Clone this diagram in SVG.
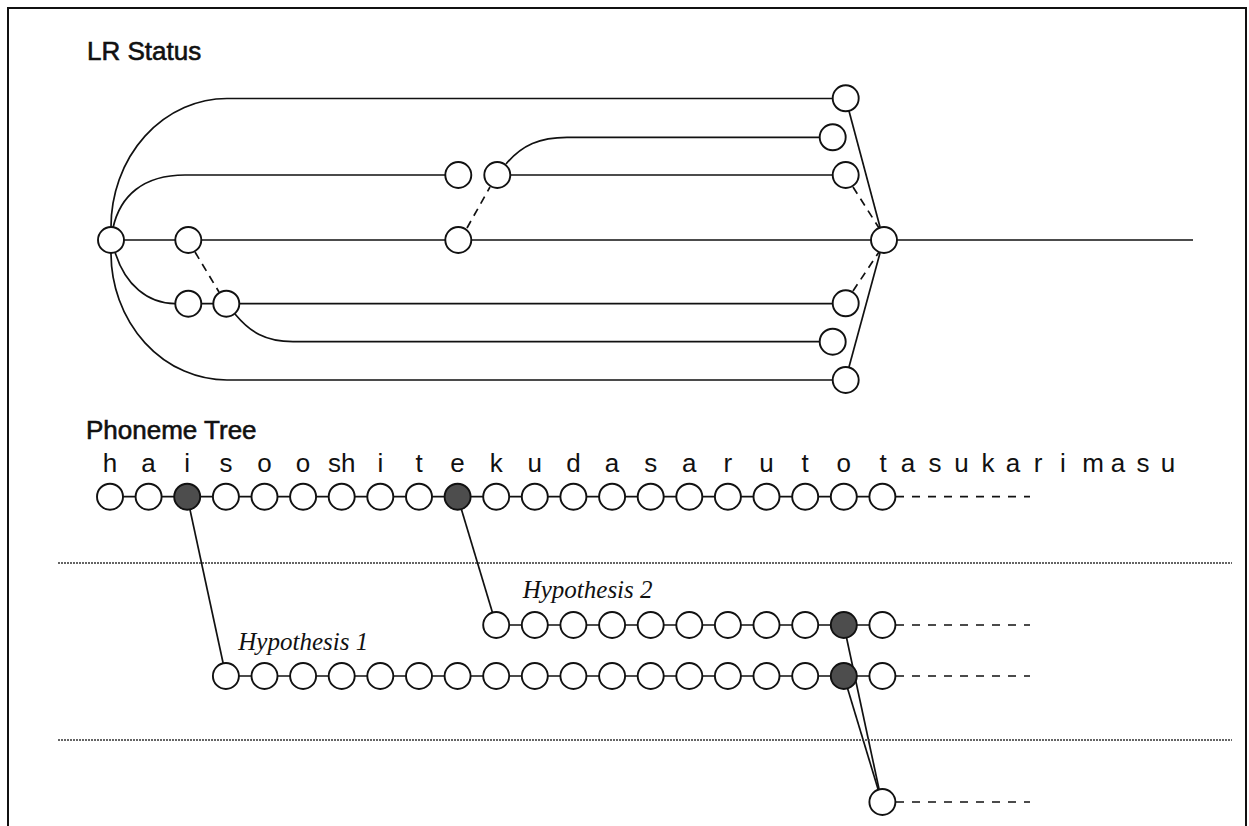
<svg xmlns="http://www.w3.org/2000/svg" width="1249" height="826" viewBox="0 0 1249 826">
  <style>
    .frame { fill: none; stroke: #111; stroke-width: 2; }
    .ln { fill: none; stroke: #111; stroke-width: 1.7; }
    .dash { fill: none; stroke: #111; stroke-width: 1.7; stroke-dasharray: 8 6; }
    .tail { fill: none; stroke: #111; stroke-width: 1.7; stroke-dasharray: 8 8; }
    .sep { fill: none; stroke: #333; stroke-width: 1.3; stroke-dasharray: 2 1; }
    .n { fill: #fff; stroke: #111; stroke-width: 1.9; }
    .f { fill: #4d4d4d; stroke: #111; stroke-width: 1.9; }
    .title { font-family: "Liberation Sans", Arial, sans-serif; font-size: 26px; fill: #111; stroke: #111; stroke-width: 0.6; }
    .ph { font-family: "Liberation Sans", Arial, sans-serif; font-size: 26px; fill: #111; text-anchor: middle; }
    .hyp { font-family: "Liberation Serif", "Times New Roman", serif; font-style: italic; font-size: 25px; fill: #111; }
  </style>

  <rect width="1249" height="826" fill="#fff"/>
  <!-- outer frame: open at the bottom -->
  <path class="frame" d="M8,826 V8 H1246 V826"/>

  <text class="title" x="87" y="60">LR Status</text>
  <text class="title" x="86" y="439">Phoneme Tree</text>

  <!-- connectors -->
  <g id="connectors">
    <!-- LR status graph -->
    <path class="ln" d="M111,227 A116,128.5 0 0 1 227,98.5 H833"/>
    <path class="ln" d="M113,228 C120,196 143,175 185,175 H445"/>
    <path class="ln" d="M111,240 H884"/>
    <path class="ln" d="M497,175 H833"/>
    <path class="ln" d="M506,164 C522,145 540,137.3 567,137.3 H820"/>
    <path class="ln" d="M115,252 C125,285 148,303.7 175,303.7 H833"/>
    <path class="ln" d="M235,314 C250,332 265,341.7 293,341.7 H820"/>
    <path class="ln" d="M111,253 A116,127 0 0 0 227,380 H833"/>
    <line class="ln" x1="884" y1="240" x2="1193" y2="240"/>
    <line class="dash" x1="195" y1="252" x2="219" y2="292"/>
    <line class="dash" x1="467" y1="228" x2="490" y2="187"/>
    <line class="ln" x1="849" y1="111" x2="880" y2="227"/>
    <line class="dash" x1="853" y1="187" x2="879" y2="228"/>
    <line class="dash" x1="853" y1="291" x2="879" y2="252"/>
    <line class="ln" x1="849" y1="367" x2="880" y2="253"/>

    <!-- phoneme rows -->
    <line class="ln" x1="110" y1="496.7" x2="882.4" y2="496.7"/>
    <line class="tail" x1="896" y1="496.7" x2="1030" y2="496.7"/>
    <line class="ln" x1="496.2" y1="625" x2="882.4" y2="625"/>
    <line class="tail" x1="896" y1="625" x2="1030" y2="625"/>
    <line class="ln" x1="225.9" y1="676" x2="882.4" y2="676"/>
    <line class="tail" x1="896" y1="676" x2="1030" y2="676"/>
    <line class="tail" x1="896" y1="802" x2="1030" y2="802"/>
    <line class="ln" x1="187.2" y1="496.7" x2="225.9" y2="676"/>
    <line class="ln" x1="457.6" y1="496.7" x2="496.2" y2="625"/>
    <line class="ln" x1="843.8" y1="625" x2="879" y2="789"/>
    <line class="ln" x1="843.8" y1="676" x2="878" y2="789"/>

    <!-- section separators -->
    <line class="sep" x1="58" y1="563" x2="1232" y2="563"/>
    <line class="sep" x1="58" y1="740" x2="1232" y2="740"/>
  </g>

  <!-- LR status nodes -->
  <g id="lr-a"><circle class="n" cx="111" cy="240" r="13"/></g>
  <g id="lr-b"><circle class="n" cx="188.3" cy="240" r="13"/></g>
  <g id="lr-c"><circle class="n" cx="188.3" cy="303.7" r="13"/></g>
  <g id="lr-d"><circle class="n" cx="226.3" cy="303.7" r="13"/></g>
  <g id="lr-e"><circle class="n" cx="458.3" cy="240" r="13"/></g>
  <g id="lr-f"><circle class="n" cx="458.3" cy="175" r="13"/></g>
  <g id="lr-g"><circle class="n" cx="497.3" cy="175" r="13"/></g>
  <g id="lr-r1"><circle class="n" cx="845.7" cy="98.3" r="13"/></g>
  <g id="lr-r2"><circle class="n" cx="832.7" cy="137.3" r="13"/></g>
  <g id="lr-r3"><circle class="n" cx="845.7" cy="175" r="13"/></g>
  <g id="lr-m"><circle class="n" cx="884" cy="240" r="13"/></g>
  <g id="lr-r4"><circle class="n" cx="845.7" cy="303.3" r="13"/></g>
  <g id="lr-r5"><circle class="n" cx="832.7" cy="341.7" r="13"/></g>
  <g id="lr-r6"><circle class="n" cx="845.7" cy="380" r="13"/></g>

  <!-- phoneme labels -->
  <g id="phonemes">
    <text class="ph" x="110" y="472">h</text>
    <text class="ph" x="148.6" y="472">a</text>
    <text class="ph" x="187.2" y="472">i</text>
    <text class="ph" x="225.9" y="472">s</text>
    <text class="ph" x="264.5" y="472">o</text>
    <text class="ph" x="303.1" y="472">o</text>
    <text class="ph" x="341.7" y="472">sh</text>
    <text class="ph" x="380.3" y="472">i</text>
    <text class="ph" x="419" y="472">t</text>
    <text class="ph" x="457.6" y="472">e</text>
    <text class="ph" x="496.2" y="472">k</text>
    <text class="ph" x="534.8" y="472">u</text>
    <text class="ph" x="573.4" y="472">d</text>
    <text class="ph" x="612.1" y="472">a</text>
    <text class="ph" x="650.7" y="472">s</text>
    <text class="ph" x="689.3" y="472">a</text>
    <text class="ph" x="727.9" y="472">r</text>
    <text class="ph" x="766.5" y="472">u</text>
    <text class="ph" x="805.2" y="472">t</text>
    <text class="ph" x="843.8" y="472">o</text>
    <text class="ph" x="883" y="472">t</text>
    <text class="ph" x="908" y="472">a</text>
    <text class="ph" x="935" y="472">s</text>
    <text class="ph" x="961.5" y="472">u</text>
    <text class="ph" x="988" y="472">k</text>
    <text class="ph" x="1013" y="472">a</text>
    <text class="ph" x="1038" y="472">r</text>
    <text class="ph" x="1063" y="472">i</text>
    <text class="ph" x="1093" y="472">m</text>
    <text class="ph" x="1118" y="472">a</text>
    <text class="ph" x="1143" y="472">s</text>
    <text class="ph" x="1168" y="472">u</text>
  </g>

  <!-- phoneme tree: main row -->
  <g id="p0"><circle class="n" cx="110" cy="496.7" r="13"/></g>
  <g id="p1"><circle class="n" cx="148.6" cy="496.7" r="13"/></g>
  <g id="p2"><circle class="f" cx="187.2" cy="496.7" r="13"/></g>
  <g id="p3"><circle class="n" cx="225.9" cy="496.7" r="13"/></g>
  <g id="p4"><circle class="n" cx="264.5" cy="496.7" r="13"/></g>
  <g id="p5"><circle class="n" cx="303.1" cy="496.7" r="13"/></g>
  <g id="p6"><circle class="n" cx="341.7" cy="496.7" r="13"/></g>
  <g id="p7"><circle class="n" cx="380.3" cy="496.7" r="13"/></g>
  <g id="p8"><circle class="n" cx="419" cy="496.7" r="13"/></g>
  <g id="p9"><circle class="f" cx="457.6" cy="496.7" r="13"/></g>
  <g id="p10"><circle class="n" cx="496.2" cy="496.7" r="13"/></g>
  <g id="p11"><circle class="n" cx="534.8" cy="496.7" r="13"/></g>
  <g id="p12"><circle class="n" cx="573.4" cy="496.7" r="13"/></g>
  <g id="p13"><circle class="n" cx="612.1" cy="496.7" r="13"/></g>
  <g id="p14"><circle class="n" cx="650.7" cy="496.7" r="13"/></g>
  <g id="p15"><circle class="n" cx="689.3" cy="496.7" r="13"/></g>
  <g id="p16"><circle class="n" cx="727.9" cy="496.7" r="13"/></g>
  <g id="p17"><circle class="n" cx="766.5" cy="496.7" r="13"/></g>
  <g id="p18"><circle class="n" cx="805.2" cy="496.7" r="13"/></g>
  <g id="p19"><circle class="n" cx="843.8" cy="496.7" r="13"/></g>
  <g id="p20"><circle class="n" cx="882.4" cy="496.7" r="13"/></g>

  <!-- hypothesis 2 -->
  <text class="hyp" x="522.7" y="598">Hypothesis 2</text>
  <g id="h2-10"><circle class="n" cx="496.2" cy="625" r="13"/></g>
  <g id="h2-11"><circle class="n" cx="534.8" cy="625" r="13"/></g>
  <g id="h2-12"><circle class="n" cx="573.4" cy="625" r="13"/></g>
  <g id="h2-13"><circle class="n" cx="612.1" cy="625" r="13"/></g>
  <g id="h2-14"><circle class="n" cx="650.7" cy="625" r="13"/></g>
  <g id="h2-15"><circle class="n" cx="689.3" cy="625" r="13"/></g>
  <g id="h2-16"><circle class="n" cx="727.9" cy="625" r="13"/></g>
  <g id="h2-17"><circle class="n" cx="766.5" cy="625" r="13"/></g>
  <g id="h2-18"><circle class="n" cx="805.2" cy="625" r="13"/></g>
  <g id="h2-19"><circle class="f" cx="843.8" cy="625" r="13"/></g>
  <g id="h2-20"><circle class="n" cx="882.4" cy="625" r="13"/></g>

  <!-- hypothesis 1 -->
  <text class="hyp" x="238.3" y="650">Hypothesis 1</text>
  <g id="h1-3"><circle class="n" cx="225.9" cy="676" r="13"/></g>
  <g id="h1-4"><circle class="n" cx="264.5" cy="676" r="13"/></g>
  <g id="h1-5"><circle class="n" cx="303.1" cy="676" r="13"/></g>
  <g id="h1-6"><circle class="n" cx="341.7" cy="676" r="13"/></g>
  <g id="h1-7"><circle class="n" cx="380.3" cy="676" r="13"/></g>
  <g id="h1-8"><circle class="n" cx="419" cy="676" r="13"/></g>
  <g id="h1-9"><circle class="n" cx="457.6" cy="676" r="13"/></g>
  <g id="h1-10"><circle class="n" cx="496.2" cy="676" r="13"/></g>
  <g id="h1-11"><circle class="n" cx="534.8" cy="676" r="13"/></g>
  <g id="h1-12"><circle class="n" cx="573.4" cy="676" r="13"/></g>
  <g id="h1-13"><circle class="n" cx="612.1" cy="676" r="13"/></g>
  <g id="h1-14"><circle class="n" cx="650.7" cy="676" r="13"/></g>
  <g id="h1-15"><circle class="n" cx="689.3" cy="676" r="13"/></g>
  <g id="h1-16"><circle class="n" cx="727.9" cy="676" r="13"/></g>
  <g id="h1-17"><circle class="n" cx="766.5" cy="676" r="13"/></g>
  <g id="h1-18"><circle class="n" cx="805.2" cy="676" r="13"/></g>
  <g id="h1-19"><circle class="f" cx="843.8" cy="676" r="13"/></g>
  <g id="h1-20"><circle class="n" cx="882.4" cy="676" r="13"/></g>

  <!-- merged continuation -->
  <g id="merge"><circle class="n" cx="882.4" cy="802" r="13"/></g>
</svg>
